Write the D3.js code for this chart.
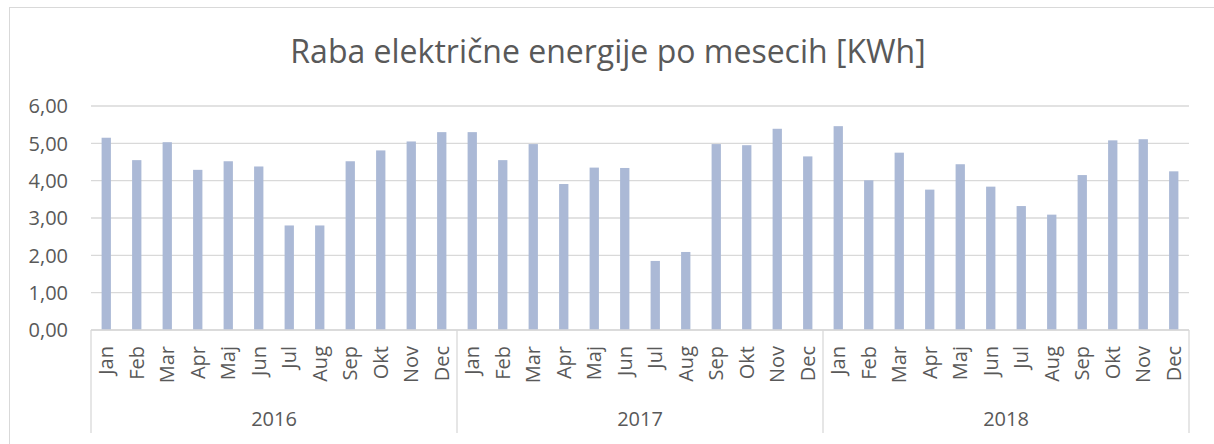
<!DOCTYPE html>
<html>
<head>
<meta charset="utf-8">
<script src="https://cdn.jsdelivr.net/npm/d3@7"></script>
<style>
  html, body { margin: 0; padding: 0; background: #fff; }
  svg { display: block; font-family: "Open Sans", sans-serif; }
</style>
</head>
<body>
<script>
const years = ["2016", "2017", "2018"];
const months = ["Jan", "Feb", "Mar", "Apr", "Maj", "Jun", "Jul", "Aug", "Sep", "Okt", "Nov", "Dec"];
const values2016 = [5.15, 4.55, 5.03, 4.29, 4.52, 4.38, 2.80, 2.80, 4.52, 4.81, 5.05, 5.30];
const values2017 = [5.30, 4.55, 4.98, 3.91, 4.35, 4.34, 1.85, 2.09, 4.98, 4.95, 5.39, 4.65];
const values2018 = [5.46, 4.01, 4.75, 3.76, 4.44, 3.84, 3.32, 3.09, 4.15, 5.08, 5.11, 4.25];
const yTicks = [0, 1, 2, 3, 4, 5, 6];

const width = 1214, height = 444;
const margin = {top: 106, right: 25, bottom: 114, left: 91};

const rows = [];
[values2016, values2017, values2018].forEach((vals, yi) => {
  vals.forEach((v, mi) => rows.push({year: years[yi], month: months[mi], key: years[yi] + "-" + months[mi], value: v}));
});

const svg = d3.select("body").append("svg")
  .attr("width", width)
  .attr("height", height);

// chart frame (runs off the right/bottom edge like the original)
svg.append("rect")
  .attr("x", 9.5).attr("y", 7.5)
  .attr("width", 1210).attr("height", 445)
  .attr("fill", "none")
  .attr("stroke", "#d9d9d9");

svg.append("text")
  .attr("x", 608)
  .attr("y", 63)
  .attr("text-anchor", "middle")
  .attr("fill", "#595959")
  .attr("font-size", 32)
  .text("Raba električne energije po mesecih [KWh]");

const x = d3.scaleBand()
  .domain(rows.map(d => d.key))
  .range([margin.left, width - margin.right]);

const y = d3.scaleLinear()
  .domain([0, 6])
  .range([height - margin.bottom, margin.top]);

// gridlines
svg.append("g")
  .selectAll("line")
  .data(yTicks)
  .join("line")
  .attr("x1", margin.left)
  .attr("x2", width - margin.right)
  .attr("y1", d => y(d))
  .attr("y2", d => y(d))
  .attr("stroke", "#d9d9d9")
  .attr("stroke-width", 1.3);

// y axis labels
svg.append("g")
  .selectAll("text")
  .data(yTicks)
  .join("text")
  .attr("x", 68)
  .attr("y", d => y(d))
  .attr("dy", "0.36em")
  .attr("text-anchor", "end")
  .attr("fill", "#595959")
  .attr("font-size", 20)
  .text(d => d3.format(".2f")(d).replace(".", ","));

// bars
const barW = x.bandwidth() * 0.305;
svg.append("g")
  .selectAll("rect")
  .data(rows)
  .join("rect")
  .attr("x", d => x(d.key) + (x.bandwidth() - barW) / 2)
  .attr("y", d => y(d.value))
  .attr("width", barW)
  .attr("height", d => y(0) - y(d.value))
  .attr("fill", "#abb9d6");

// category axis box
const axisY = y(0);
const boxBottom = 433;
svg.append("line")
  .attr("x1", margin.left).attr("x2", width - margin.right)
  .attr("y1", axisY).attr("y2", axisY)
  .attr("stroke", "#d9d9d9").attr("stroke-width", 1.3);

const groupEdges = years.map(yr => x(yr + "-Jan")).concat([width - margin.right]);
svg.append("g")
  .selectAll("line")
  .data(groupEdges)
  .join("line")
  .attr("x1", d => d).attr("x2", d => d)
  .attr("y1", axisY).attr("y2", boxBottom)
  .attr("stroke", "#d9d9d9").attr("stroke-width", 1.3);

// month labels
svg.append("g")
  .selectAll("text")
  .data(rows)
  .join("text")
  .attr("transform", d => `translate(${x(d.key) + x.bandwidth() / 2},346) rotate(-90)`)
  .attr("dy", "0.36em")
  .attr("text-anchor", "end")
  .attr("fill", "#595959")
  .attr("font-size", 20)
  .text(d => d.month);

// year labels
svg.append("g")
  .selectAll("text")
  .data(years)
  .join("text")
  .attr("x", yr => (x(yr + "-Jan") + x(yr + "-Dec") + x.bandwidth()) / 2)
  .attr("y", 426)
  .attr("text-anchor", "middle")
  .attr("fill", "#595959")
  .attr("font-size", 20)
  .text(yr => yr);
</script>
</body>
</html>
